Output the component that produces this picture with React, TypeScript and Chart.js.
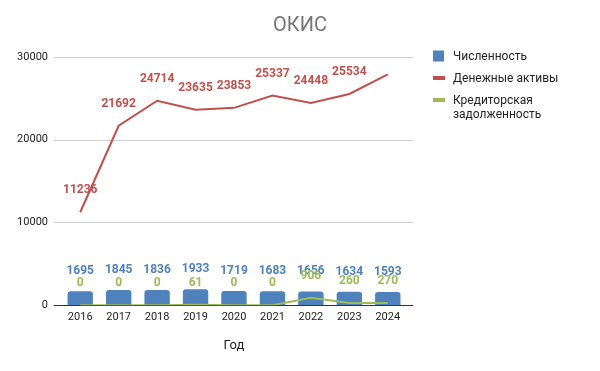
import React, { useEffect, useRef } from "react";
import { Chart, registerables } from "chart.js";

Chart.register(...registerables);

const years = ["2016", "2017", "2018", "2019", "2020", "2021", "2022", "2023", "2024"];
const headcount = [1695, 1845, 1836, 1933, 1719, 1683, 1656, 1634, 1593];
const cashAssets = [11236, 21692, 24714, 23635, 23853, 25337, 24448, 25534, 27900];
const payables = [0, 0, 0, 61, 0, 0, 906, 260, 270];
const yTicks = [0, 10000, 20000, 30000];

const seriesNames = ["Численность", "Денежные активы", "Кредиторская задолженность"];
const legendLines = [["Численность"], ["Денежные активы"], ["Кредиторская", "задолженность"]];
const chartTitle = "ОКИС";
const xTitle = "Год";

const BLUE = "#4f81bd";
const RED = "#c0504d";
const GREEN = "#9bbb59";
const FONT = "Roboto, 'Noto Sans', sans-serif";

// which points get a data label (red 2024 has none)
const labelShown = [
  headcount.map(() => true),
  cashAssets.map((_, i) => i !== cashAssets.length - 1),
  payables.map(() => true),
];

const decorPlugin = {
  id: "decor",
  beforeDatasetsDraw(chart: any) {
    const { ctx, chartArea } = chart;
    const y = chart.scales.y;
    ctx.save();
    yTicks.forEach((t) => {
      const py = Math.round(y.getPixelForValue(t)) + 0.5;
      ctx.strokeStyle = t === 0 ? "#333333" : "#cfcfcf";
      ctx.lineWidth = 1;
      ctx.beginPath();
      ctx.moveTo(chartArea.left - 7, py);
      ctx.lineTo(chartArea.right + 6, py);
      ctx.stroke();
    });
    ctx.restore();
  },
  afterDatasetsDraw(chart: any) {
    const { ctx } = chart;
    ctx.save();
    ctx.font = `bold 12px ${FONT}`;
    ctx.textAlign = "center";
    ctx.textBaseline = "middle";
    const colors = [BLUE, RED, GREEN];
    const offsets = [20, 22, 22];
    [0, 1, 2].forEach((di) => {
      const meta = chart.getDatasetMeta(di);
      const data = chart.data.datasets[di].data as number[];
      ctx.fillStyle = colors[di];
      meta.data.forEach((el: any, i: number) => {
        if (!labelShown[di][i]) return;
        ctx.fillText(String(data[i]), el.x, el.y - offsets[di]);
      });
    });
    ctx.restore();
  },
  afterDraw(chart: any) {
    const { ctx } = chart;
    ctx.save();
    // title
    ctx.font = `20px ${FONT}`;
    ctx.fillStyle = "#757575";
    ctx.textAlign = "center";
    ctx.textBaseline = "middle";
    ctx.fillText(chartTitle, chart.width / 2, 26);
    // legend
    const lx = 433;
    const rowY = [56, 78, 100];
    ctx.font = `12px ${FONT}`;
    ctx.textAlign = "left";
    ctx.textBaseline = "middle";
    legendLines.forEach((lines, i) => {
      const cy = rowY[i];
      if (i === 0) {
        ctx.fillStyle = BLUE;
        ctx.fillRect(lx, cy - 5.5, 11, 11);
      } else {
        ctx.fillStyle = i === 1 ? RED : GREEN;
        ctx.fillRect(lx, cy - 2, 12, 4);
      }
      ctx.fillStyle = "#222222";
      lines.forEach((t, k) => ctx.fillText(t, 453, cy + 1 + k * 14));
    });
    ctx.restore();
  },
};

export default function App() {
  const ref = useRef<HTMLCanvasElement>(null);
  useEffect(() => {
    document.body.style.margin = "0";
    const chart = new Chart(ref.current as HTMLCanvasElement, {
      type: "bar",
      data: {
        labels: years,
        datasets: [
          {
            type: "bar",
            label: seriesNames[0],
            data: headcount,
            backgroundColor: BLUE,
            borderRadius: { topLeft: 3, topRight: 3, bottomLeft: 0, bottomRight: 0 },
            borderSkipped: "bottom",
            barPercentage: 0.66,
            categoryPercentage: 1,
            order: 10,
          },
          {
            type: "line",
            label: seriesNames[1],
            data: cashAssets,
            borderColor: RED,
            backgroundColor: RED,
            borderWidth: 2,
            pointRadius: 0,
            tension: 0,
            order: 1,
          },
          {
            type: "line",
            label: seriesNames[2],
            data: payables,
            borderColor: GREEN,
            backgroundColor: GREEN,
            borderWidth: 2,
            pointRadius: 0,
            tension: 0,
            order: 2,
          },
        ] as any,
      },
      options: {
        responsive: false,
        animation: false,
        layout: { padding: { top: 57, right: 193, bottom: 17, left: 0 } },
        plugins: {
          legend: { display: false },
          title: { display: false },
          tooltip: { enabled: false },
        },
        scales: {
          x: {
            grid: { display: false, drawTicks: false },
            border: { display: false },
            ticks: { color: "#222222", font: { family: FONT, size: 11 }, padding: 5 },
            title: {
              display: true,
              text: xTitle,
              color: "#222222",
              font: { family: FONT, size: 13 },
              padding: { top: 10, bottom: 0 },
            },
          },
          y: {
            min: 0,
            max: 30000,
            grid: { display: false, drawTicks: false },
            border: { display: false },
            afterFit: (s: any) => {
              s.width = 61;
            },
            afterBuildTicks: (s: any) => {
              s.ticks = yTicks.map((v) => ({ value: v }));
            },
            ticks: {
              color: "#222222",
              font: { family: FONT, size: 11 },
              padding: 13,
              callback: (v: any) => String(v),
            },
          },
        },
      },
      plugins: [decorPlugin],
    });
    return () => chart.destroy();
  }, []);
  return (
    <div style={{ width: 600, height: 371 }}>
      <canvas ref={ref} width={600} height={371} style={{ display: "block" }} />
    </div>
  );
}
